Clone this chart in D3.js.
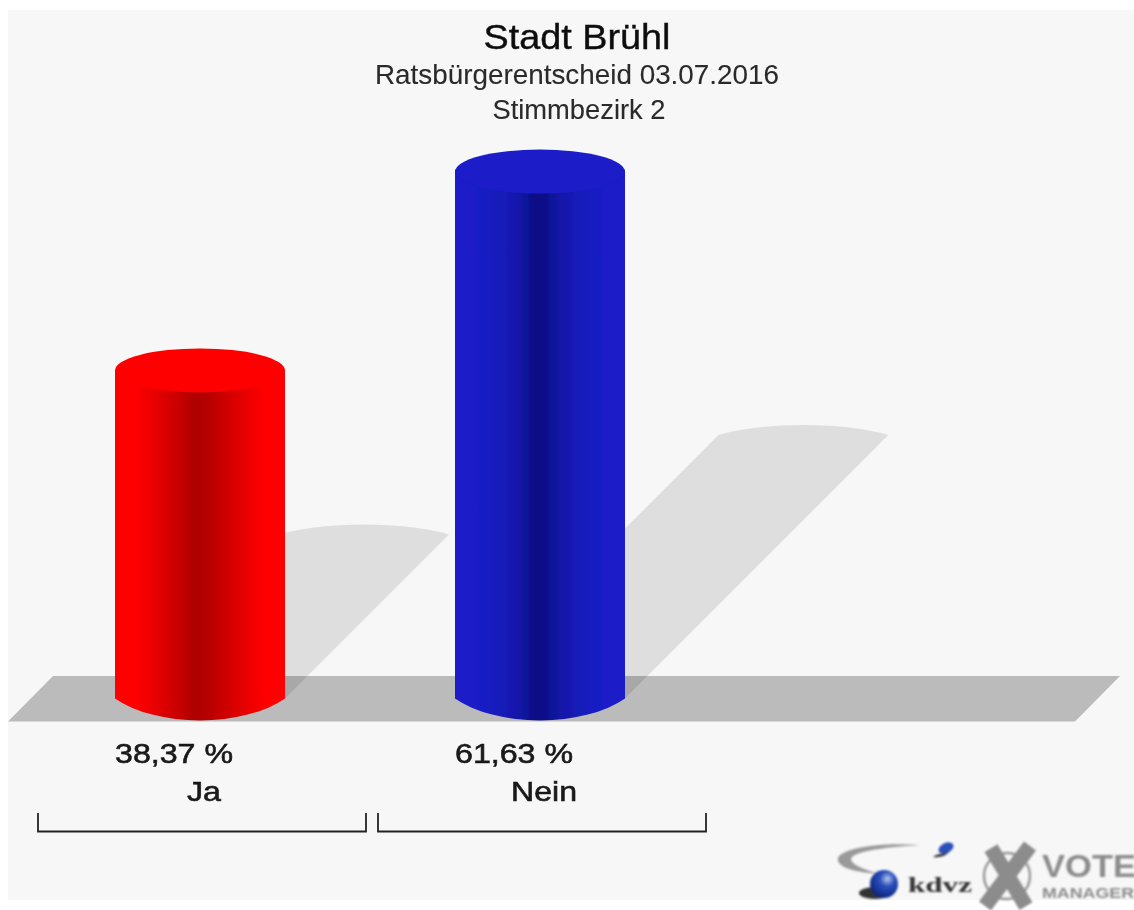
<!DOCTYPE html>
<html><head><meta charset="utf-8">
<script src="https://cdnjs.cloudflare.com/ajax/libs/d3/7.8.5/d3.min.js"></script>
<style>html,body{margin:0;padding:0;background:#fff}svg{display:block}
text{font-family:"Liberation Sans",Arial,sans-serif}</style></head><body>
<svg id="c" width="1134" height="910"></svg>
<script>
const categories = ["Ja", "Nein"];
const values = [38.37, 61.63];
const valueLabels = ["38,37 %", "61,63 %"];
const titles = ["Stadt Brühl", "Ratsbürgerentscheid 03.07.2016", "Stimmbezirk 2"];
const edgeColors = ["#ff0000", "#1a1fc9"];
const nearColors = ["#cc0000", "#1418ad"];
const midColors = ["#b00000", "#0c0f88"];

const svg = d3.select("#c");
const defs = svg.append("defs");
defs.append("filter").attr("id","soft").append("feGaussianBlur").attr("stdDeviation",0.8);
defs.append("filter").attr("id","txt").append("feGaussianBlur").attr("stdDeviation",0.5);
const ball = defs.append("radialGradient").attr("id","ball").attr("cx",.62).attr("cy",.32).attr("r",.75);
ball.append("stop").attr("offset",0).attr("stop-color","#b8c8e8");
ball.append("stop").attr("offset",.35).attr("stop-color","#2a50c0");
ball.append("stop").attr("offset",1).attr("stop-color","#0a2070");

svg.append("rect").attr("x",8).attr("y",10).attr("width",1126).attr("height",890).attr("fill","#f7f7f7");

const x = d3.scaleBand().domain(categories).range([30,710]);
const y = d3.scaleLinear().domain([0,100]).range([698.5,-156.5]);
const barW = 170, ry = 22, base = y(0);

svg.append("path").attr("d","M53,676L1120,676L1075,721.5L8,721.5Z").attr("fill","#bbbbbb");

categories.forEach((c,i)=>{
  const g = defs.append("linearGradient").attr("id","g"+i);
  [[0,edgeColors[i]],[.12,edgeColors[i]],[.36,nearColors[i]],[.46,midColors[i]],[.52,midColors[i]],[.64,nearColors[i]],[.88,edgeColors[i]],[1,edgeColors[i]]]
    .forEach(s=>g.append("stop").attr("offset",s[0]).attr("stop-color",s[1]));
});

const gr = svg.append("g").attr("filter","url(#txt)");
values.forEach((v,i)=>{
  const cx = x(categories[i]) + x.bandwidth()/2, h = base - y(v);
  const sx = cx + h/2, sy = base - h/2, rx = barW/2;
  gr.append("path")
    .attr("d",`M${cx-rx},${base}L${sx-rx},${sy}A105,24 0 0 1 ${sx+rx},${sy}L${cx+rx},${base}Z`)
    .attr("fill","#000").attr("fill-opacity",0.1);
});

values.forEach((v,i)=>{
  const cx = x(categories[i]) + x.bandwidth()/2, top = y(v), rx = barW/2;
  const m = svg.append("g").attr("filter","url(#txt)");
  m.append("path")
    .attr("d",`M${cx-rx},${top}L${cx-rx},${base}A105,53 0 0 0 ${cx+rx},${base}L${cx+rx},${top}Z`)
    .attr("fill",`url(#g${i})`);
  m.append("ellipse").attr("cx",cx).attr("cy",top).attr("rx",rx).attr("ry",ry).attr("fill",edgeColors[i]);
});

const tg = svg.append("g").attr("filter","url(#txt)");
function label(t,cx,by,fs,len,sw,col){
  tg.append("text").attr("x",cx).attr("y",by).attr("text-anchor","middle").attr("font-size",fs)
    .attr("textLength",len).attr("lengthAdjust","spacingAndGlyphs")
    .attr("fill",col).attr("stroke",col).attr("stroke-width",sw).text(t);
}
label(titles[0],577,49,35,187,.4,"#111");
label(titles[1],577,84,28,404,.1,"#2a2a2a");
label(titles[2],579,119,27,173,.1,"#2a2a2a");

categories.forEach((c,i)=>{
  const cx = x(c) + x.bandwidth()/2;
  label(valueLabels[i],cx-26,763,28,118,.6,"#1a1a1a");
  label(c,cx+4,801,28,i?66:34,.6,"#1a1a1a");
  tg.append("path").attr("d",`M${cx-162},813V831.5H${cx+166}V813`).attr("fill","none").attr("stroke","#222").attr("stroke-width",1.8);
});

// logo
const lg = svg.append("g").attr("filter","url(#soft)");
lg.append("path").attr("d","M920,845C880,842 842,848 838,858C836,866 850,872 880,874C858,868 848,862 852,857C860,850 890,847 920,845Z").attr("fill","#9a9a9a");
lg.append("path").attr("d","M933,857C938,853 944,854 950,851C946,856 940,858 933,857Z").attr("fill","#333");
lg.append("ellipse").attr("cx",946).attr("cy",848).attr("rx",8).attr("ry",5).attr("fill","#2a50b8").attr("transform","rotate(-25 946 848)");
lg.append("ellipse").attr("cx",875).attr("cy",893).attr("rx",16).attr("ry",6).attr("fill","#333");
lg.append("circle").attr("cx",884).attr("cy",884).attr("r",14).attr("fill","url(#ball)");
lg.append("text").attr("x",908).attr("y",892).attr("font-size",22).attr("textLength",64).attr("lengthAdjust","spacingAndGlyphs").attr("fill","#333").attr("font-weight","bold").attr("style","font-family:'Liberation Serif'").text("kdvz");
lg.append("circle").attr("cx",1007).attr("cy",876).attr("r",23).attr("fill","none").attr("stroke","#999").attr("stroke-width",2.5);
lg.append("path").attr("d","M991,848L1026,906M1030,846L985,906").attr("stroke","#8c8c8c").attr("stroke-width",15).attr("fill","none");
lg.append("text").attr("x",1042).attr("y",877).attr("font-weight","bold").attr("font-size",32).attr("textLength",94).attr("lengthAdjust","spacingAndGlyphs").attr("fill","#8c8c8c").text("VOTE");
lg.append("text").attr("x",1042).attr("y",898).attr("font-weight","bold").attr("font-size",15).attr("textLength",92).attr("lengthAdjust","spacingAndGlyphs").attr("fill","#8c8c8c").text("MANAGER");
</script></body></html>
